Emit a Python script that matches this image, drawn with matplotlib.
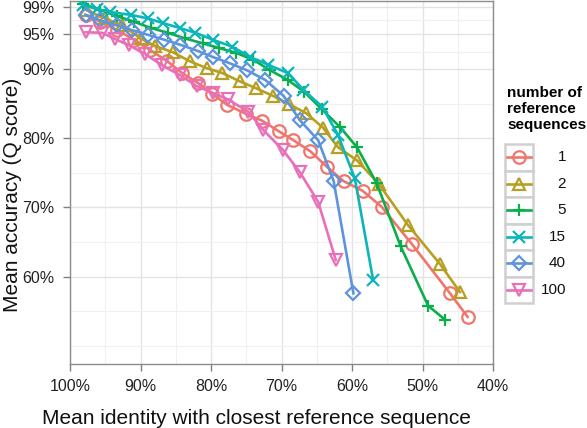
import matplotlib
matplotlib.use("Agg")
import matplotlib.pyplot as plt
from matplotlib.patches import Rectangle
from matplotlib.lines import Line2D

plt.rcParams['font.family'] = ['Liberation Sans', 'DejaVu Sans']

# number of reference sequences -> (mean identity %, mean accuracy %)
labels = ["1", "2", "5", "15", "40", "100"]
colors = ["#F0756C", "#B69F22", "#0AAE4A", "#0BB6BB", "#5E93DD", "#E86FBA"]
markers = ["o", "^", "+", "x", "D", "v"]

x_1 = [97.8, 95.7, 93.3, 90.9, 88.6, 86.2, 84.1, 81.9, 79.8, 77.7, 75.0, 72.7,
       70.4, 68.3, 65.9, 63.6, 61.2, 58.5, 55.8, 51.5, 46.1, 43.6]
y_1 = [97.8, 96.8, 95.6, 94.2, 92.7, 91.1, 89.4, 88.0, 86.4, 84.8, 83.5, 82.5,
       81.0, 79.7, 78.1, 75.9, 73.8, 72.4, 70.1, 64.7, 57.6, 54.2]

x_2 = [97.7, 95.1, 92.6, 90.0, 87.9, 85.4, 83.0, 80.6, 78.4, 75.9, 73.6, 71.2,
       68.9, 66.5, 64.1, 62.0, 59.3, 56.2, 52.1, 47.5, 44.7]
y_2 = [98.5, 97.3, 96.3, 94.4, 93.3, 92.4, 91.1, 90.1, 89.4, 88.2, 87.2, 86.1,
       84.9, 83.6, 81.5, 78.7, 76.8, 73.4, 67.5, 61.8, 57.8]

x_5 = [98.1, 95.7, 93.3, 90.9, 88.5, 86.1, 83.7, 81.2, 78.8, 76.4, 74.0, 71.6,
       69.1, 66.8, 64.3, 61.7, 59.3, 56.5, 53.1, 49.2, 46.8]
y_5 = [99.4, 98.5, 97.6, 96.8, 95.9, 95.2, 94.4, 93.7, 93.0, 92.3, 91.3, 89.8,
       88.4, 86.7, 84.2, 81.6, 78.7, 73.5, 64.4, 55.8, 53.8]

x_15 = [98.1, 96.1, 94.3, 91.4, 89.0, 86.8, 84.4, 82.2, 79.7, 77.0, 74.4, 71.9,
        69.1, 66.9, 64.2, 62.0, 59.6, 57.0]
y_15 = [99.2, 98.6, 98.2, 97.8, 97.3, 96.6, 95.9, 95.2, 94.2, 93.2, 91.7, 90.6,
        89.4, 87.0, 84.5, 80.5, 74.2, 59.5]

x_40 = [97.8, 95.7, 93.4, 91.2, 88.9, 86.6, 84.4, 81.9, 79.7, 77.3, 74.9, 72.3,
        69.7, 67.4, 64.8, 62.6, 59.8]
y_40 = [97.8, 97.0, 96.3, 95.6, 94.9, 94.2, 93.5, 92.6, 91.7, 90.8, 89.8, 88.4,
        86.1, 82.6, 79.7, 73.8, 57.6]

x_100 = [97.8, 95.4, 93.6, 91.6, 89.3, 86.9, 84.4, 82.0, 79.7, 77.6, 74.7, 72.6,
         69.8, 67.4, 64.8, 62.3]
y_100 = [95.3, 95.2, 94.3, 93.4, 92.1, 90.5, 89.1, 87.5, 86.5, 85.6, 83.8, 81.2,
         78.3, 75.1, 70.8, 62.4]

xs = [x_1, x_2, x_5, x_15, x_40, x_100]
ys = [y_1, y_2, y_5, y_15, y_40, y_100]

x_ticks = [100, 90, 80, 70, 60, 50, 40]
y_ticks = [60, 70, 80, 90, 95, 99]

W, H = 587, 428
fig = plt.figure(figsize=(W / 100, H / 100), dpi=100)
ax = fig.add_axes([70 / W, 1 - 364 / H, 423 / W, 363 / H])

for x, y, c, m in zip(xs, ys, colors, markers):
    filled = m in ("+", "x")
    ax.plot(x, y, color=c, lw=1.9, marker=m, ms=9 if m != "D" else 7.5,
            mfc=c if filled else "none", mec=c, mew=1.6, zorder=3)

ax.set_xlim(100, 40)
ax.set_ylim(47.4, 99.8)
ax.set_xticks(x_ticks)
ax.set_xticklabels([f"{v}%" for v in x_ticks])
ax.set_yticks(y_ticks)
ax.set_yticklabels([f"{v}%" for v in y_ticks])
ax.set_xticks([95, 85, 75, 65, 55, 45], minor=True)
ax.set_yticks([50, 55, 65, 75, 85, 92.5, 97], minor=True)
ax.grid(which="major", color="#E3E3E3", lw=1.0, zorder=0)
ax.grid(which="minor", color="#F0F0F0", lw=0.8, zorder=0)
ax.tick_params(which="minor", length=0)
ax.tick_params(which="major", length=5, width=1.0, color="#7F7F7F", labelsize=11.5,
               labelcolor="#222222", pad=6)
for s in ax.spines.values():
    s.set_color("#8C8C8C")
    s.set_linewidth(1.0)

fig.text(256 / W, 1 - 419 / H, "Mean identity with closest reference sequence",
         fontsize=15, ha="center", va="center", color="#111111")
fig.text(13 / W, 1 - 195 / H, "Mean accuracy (Q score)", fontsize=15,
         rotation=90, ha="center", va="center", color="#111111")

# legend drawn in figure pixel space
fig.text(507 / W, 1 - 86 / H, "number of\nreference\nsequences", fontsize=11,
         fontweight="bold", va="top", ha="left", linespacing=1.2)
key_top = 144
key_h = 26.5
for i, (lab, c, m) in enumerate(zip(labels, colors, markers)):
    top = key_top + i * key_h
    fig.patches.append(Rectangle((505 / W, 1 - (top + key_h) / H), 28 / W,
                                 key_h / H, transform=fig.transFigure,
                                 facecolor="white", edgecolor="#D0D0D0", lw=1.8))
    cy = 1 - (top + key_h / 2) / H
    filled = m in ("+", "x")
    fig.lines.append(Line2D([507 / W, 531 / W], [cy, cy], transform=fig.transFigure,
                            color=c, lw=1.9))
    fig.lines.append(Line2D([519 / W], [cy], transform=fig.transFigure, color=c,
                            marker=m, ms=9 if m != "D" else 7.5,
                            mfc=c if filled else "none", mec=c, mew=1.6))
    fig.text(566 / W, cy, lab, fontsize=11, ha="right", va="center",
             color="#111111")

fig.savefig("out.png", dpi=100)
